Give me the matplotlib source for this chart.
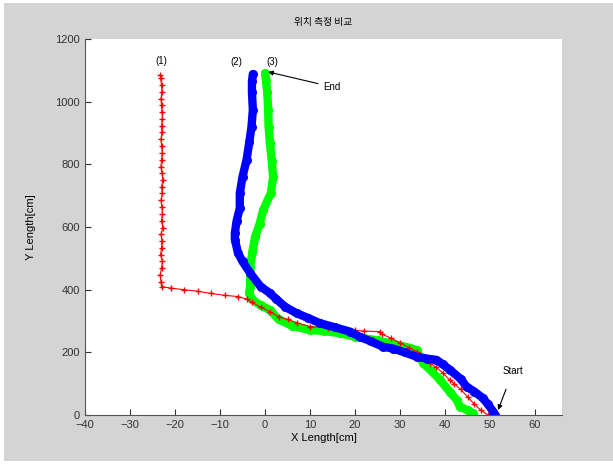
import matplotlib
matplotlib.use("Agg")
import matplotlib.pyplot as plt
from matplotlib.patches import Rectangle

plt.rcParams['font.family'] = ['Liberation Sans', 'Noto Sans CJK KR', 'DejaVu Sans']

# (1) red '+' track, start (bottom right) -> end (top)
x1 = [49.5, 48, 46.5, 45, 43.5, 42, 41, 39.5, 38, 36.7, 35.5, 34.5, 33.7, 32, 30, 28,
      26, 25.5, 22, 20, 17, 14, 10, 7, 5, 3, 1, -1, -3, -4, -6, -9, -12, -15, -18, -21, -23,
      -23.1, -23.3, -23.0, -22.8, -23.2, -23.0, -22.9, -23.1, -22.7, -23.0, -22.8, -22.9,
      -23.1, -22.8, -23.0, -22.7, -22.9, -23.1, -23.0, -22.8, -23.0, -23.1, -22.9, -23.0,
      -22.8, -22.9, -23.0, -23.1, -22.9, -23.0, -23.2, -23.3]
y1 = [0, 15, 35, 58, 82, 100, 112, 135, 152, 166, 180, 192, 202, 215, 230, 245,
      258, 266, 268, 270, 274, 278, 282, 295, 305, 314, 330, 345, 360, 370, 378, 382, 388,
      395, 400, 405, 410,
      425, 447, 468, 490, 512, 533, 555, 577, 598, 620, 642, 663, 685, 707, 728, 750, 772,
      793, 815, 837, 858, 880, 902, 923, 945, 967, 988, 1010, 1032, 1053, 1075, 1085]

# (2) blue track
x2 = [51, 50.7, 49.5, 48.4, 46.5, 44.8, 43.5, 41.1, 39.5, 38.1, 36, 33.7, 31, 28.5, 26.2,
      23.5, 21, 18.9, 15.5, 12.2, 9.5, 7, 4.5, 2.5, 1.1, -1, -3.3, -5, -6, -6.7, -6.7, -6.3,
      -5.6, -5.6, -5, -4.1, -3.5, -3, -2.7, -2.9, -2.9, -2.7]
y2 = [0, 11, 35, 54, 75, 90, 115, 144, 162, 176, 180, 186, 200, 212, 218,
      235, 250, 266, 280, 293, 310, 325, 345, 370, 389, 410, 453, 490, 517, 560, 581, 620,
      660, 708, 760, 814, 870, 920, 974, 1030, 1065, 1088]

# (3) green track
x3 = [46.2, 45, 43.3, 42.6, 41, 38.9, 37, 35.1, 33.7, 32, 29, 25, 20, 16.7, 13, 10, 6, 3,
      1.1, -1, -3, -3.5, -3.3, -3.3, -3.3, -2.8, -2.2, -1.2, -0.4, 1.3, 1.8, 1.5, 1.1, 0.8,
      0.7, 0.5, 0.2, 0]
y3 = [6, 15, 27, 48, 75, 112, 140, 166, 207, 215, 225, 238, 250, 261, 268, 271, 285, 305,
      335, 350, 370, 390, 410, 440, 472, 520, 568, 610, 654, 708, 760, 810, 868, 920,
      974, 1030, 1070, 1090]

fig = plt.figure(figsize=(6.13, 4.66), dpi=100)
fig.patch.set_facecolor('white')
fig.patches.append(Rectangle((4 / 613, 5 / 466), 609 / 613, 458 / 466,
                             transform=fig.transFigure, facecolor='#d4d4d4',
                             edgecolor='none', zorder=-10))

ax = fig.add_axes([85 / 613, 51 / 466, 477 / 613, 376 / 466])
ax.set_facecolor('white')

ax.plot(x3, y3, color='#00ff00', lw=6, marker='o', ms=6.5, mew=0,
        solid_joinstyle='round', solid_capstyle='round')
ax.plot(x1, y1, color='#ff0000', lw=0.8, marker='+', ms=5, mew=1)
ax.plot(x2, y2, color='#0000ff', lw=6, marker='o', ms=6.5, mew=0,
        solid_joinstyle='round', solid_capstyle='round')

ax.text(-23, 1130, '(1)', fontsize=7, ha='center', va='center')
ax.text(-6.4, 1127, '(2)', fontsize=7, ha='center', va='center')
ax.text(1.6, 1127, '(3)', fontsize=7, ha='center', va='center')
ax.annotate('End', xy=(0.7, 1095), xytext=(13, 1047), fontsize=7,
            ha='left', va='center',
            arrowprops=dict(arrowstyle='-|>', color='black', lw=0.8,
                            shrinkA=2, shrinkB=0, mutation_scale=7))
ax.annotate('Start', xy=(51.8, 16), xytext=(55.1, 140), fontsize=7,
            ha='center', va='center',
            arrowprops=dict(arrowstyle='-|>', color='black', lw=0.8,
                            shrinkA=8, shrinkB=0, mutation_scale=7))

ax.set_xlim(-40, 66)
ax.set_ylim(0, 1200)
ax.set_xticks(range(-40, 61, 10))
ax.set_yticks(range(0, 1201, 200))
ax.tick_params(direction='in', labelsize=8, length=4, width=0.8, colors='#333333')
for s in ['top', 'right']:
    ax.spines[s].set_visible(False)
for s in ['left', 'bottom']:
    ax.spines[s].set_color('#555555')

ax.set_title('위치 측정 비교', fontsize=7, family=['Noto Sans CJK KR', 'DejaVu Sans'], pad=10)
ax.set_xlabel('X Length[cm]', fontsize=8, labelpad=2)
ax.set_ylabel('Y Length[cm]', fontsize=8, labelpad=14)

fig.savefig('out.png', dpi=100)
